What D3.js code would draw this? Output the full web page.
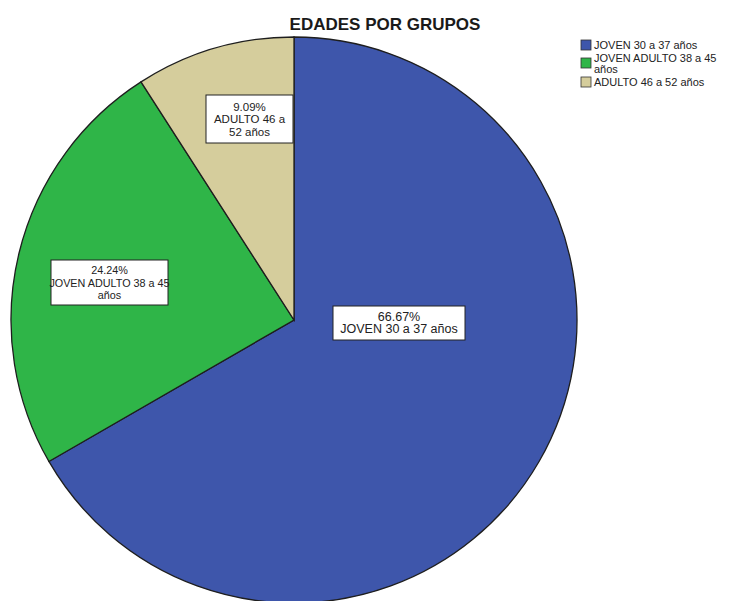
<!DOCTYPE html>
<html><head><meta charset="utf-8">
<script src="https://cdn.jsdelivr.net/npm/d3@7"></script>
<style>body{margin:0;background:#fff}svg{display:block}text{font-family:"Liberation Sans",Arial,sans-serif}</style>
</head><body>
<svg id="c" width="742" height="601"></svg>
<script>
const categories = ["JOVEN 30 a 37 años", "JOVEN ADULTO 38 a 45 años", "ADULTO 46 a 52 años"];
const values = [66.67, 24.24, 9.09];
const colors = ["#3e56ab", "#2fb548", "#d5cd9c"];
const labelLines = [["66.67%", "JOVEN 30 a 37 años"], ["24.24%", "JOVEN ADULTO 38 a 45", "años"], ["9.09%", "ADULTO 46 a", "52 años"]];
const legendLines = [["JOVEN 30 a 37 años"], ["JOVEN ADULTO 38 a 45", "años"], ["ADULTO 46 a 52 años"]];

const svg = d3.select("#c");
const cx = 294, cy = 320, r = 283;
svg.append("text").attr("x", 385).attr("y", 30).attr("text-anchor", "middle")
  .attr("font-size", 17).attr("font-weight", "bold").attr("fill", "#1a1a1a").text("EDADES POR GRUPOS");

const pie = d3.pie().sort(null).value(d => d)(values);
const arc = d3.arc().innerRadius(0).outerRadius(r);
const g = svg.append("g").attr("transform", `translate(${cx},${cy})`);
g.selectAll("path").data(pie).join("path").attr("d", arc)
  .attr("fill", (d, i) => colors[i]).attr("stroke", "#1e1e1e").attr("stroke-width", 1.3);

const boxes = [
  {x: 333, y: 306, w: 132, h: 34, fs: 12.5},
  {x: 51, y: 260, w: 117, h: 45, fs: 10.8},
  {x: 206, y: 95, w: 87, h: 48, fs: 11.5}
];
boxes.forEach((b, i) => {
  svg.append("rect").attr("x", b.x).attr("y", b.y).attr("width", b.w).attr("height", b.h)
    .attr("fill", "#fff").attr("stroke", "#222").attr("stroke-width", 1);
  const lines = labelLines[i];
  const lh = 12.5;
  const startY = b.y + b.h / 2 - (lines.length - 1) * lh / 2 + 4;
  lines.forEach((t, j) => {
    svg.append("text").attr("x", b.x + b.w / 2).attr("y", startY + j * lh)
      .attr("text-anchor", "middle").attr("font-size", b.fs).attr("fill", "#222").text(t);
  });
});

// legend
const ly = [45, 63, 82];
categories.forEach((c, i) => {
  svg.append("rect").attr("x", 581).attr("y", ly[i] - 5).attr("width", 10).attr("height", 10)
    .attr("fill", colors[i]).attr("stroke", "#333").attr("stroke-width", 0.8);
  const n = legendLines[i].length;
  legendLines[i].forEach((t, j) => {
    svg.append("text").attr("x", 594).attr("y", ly[i] + 4 - (n > 1 ? 5 : 0) + j * 10.5)
      .attr("font-size", 11).attr("fill", "#222").text(t);
  });
});
</script>
</body></html>
